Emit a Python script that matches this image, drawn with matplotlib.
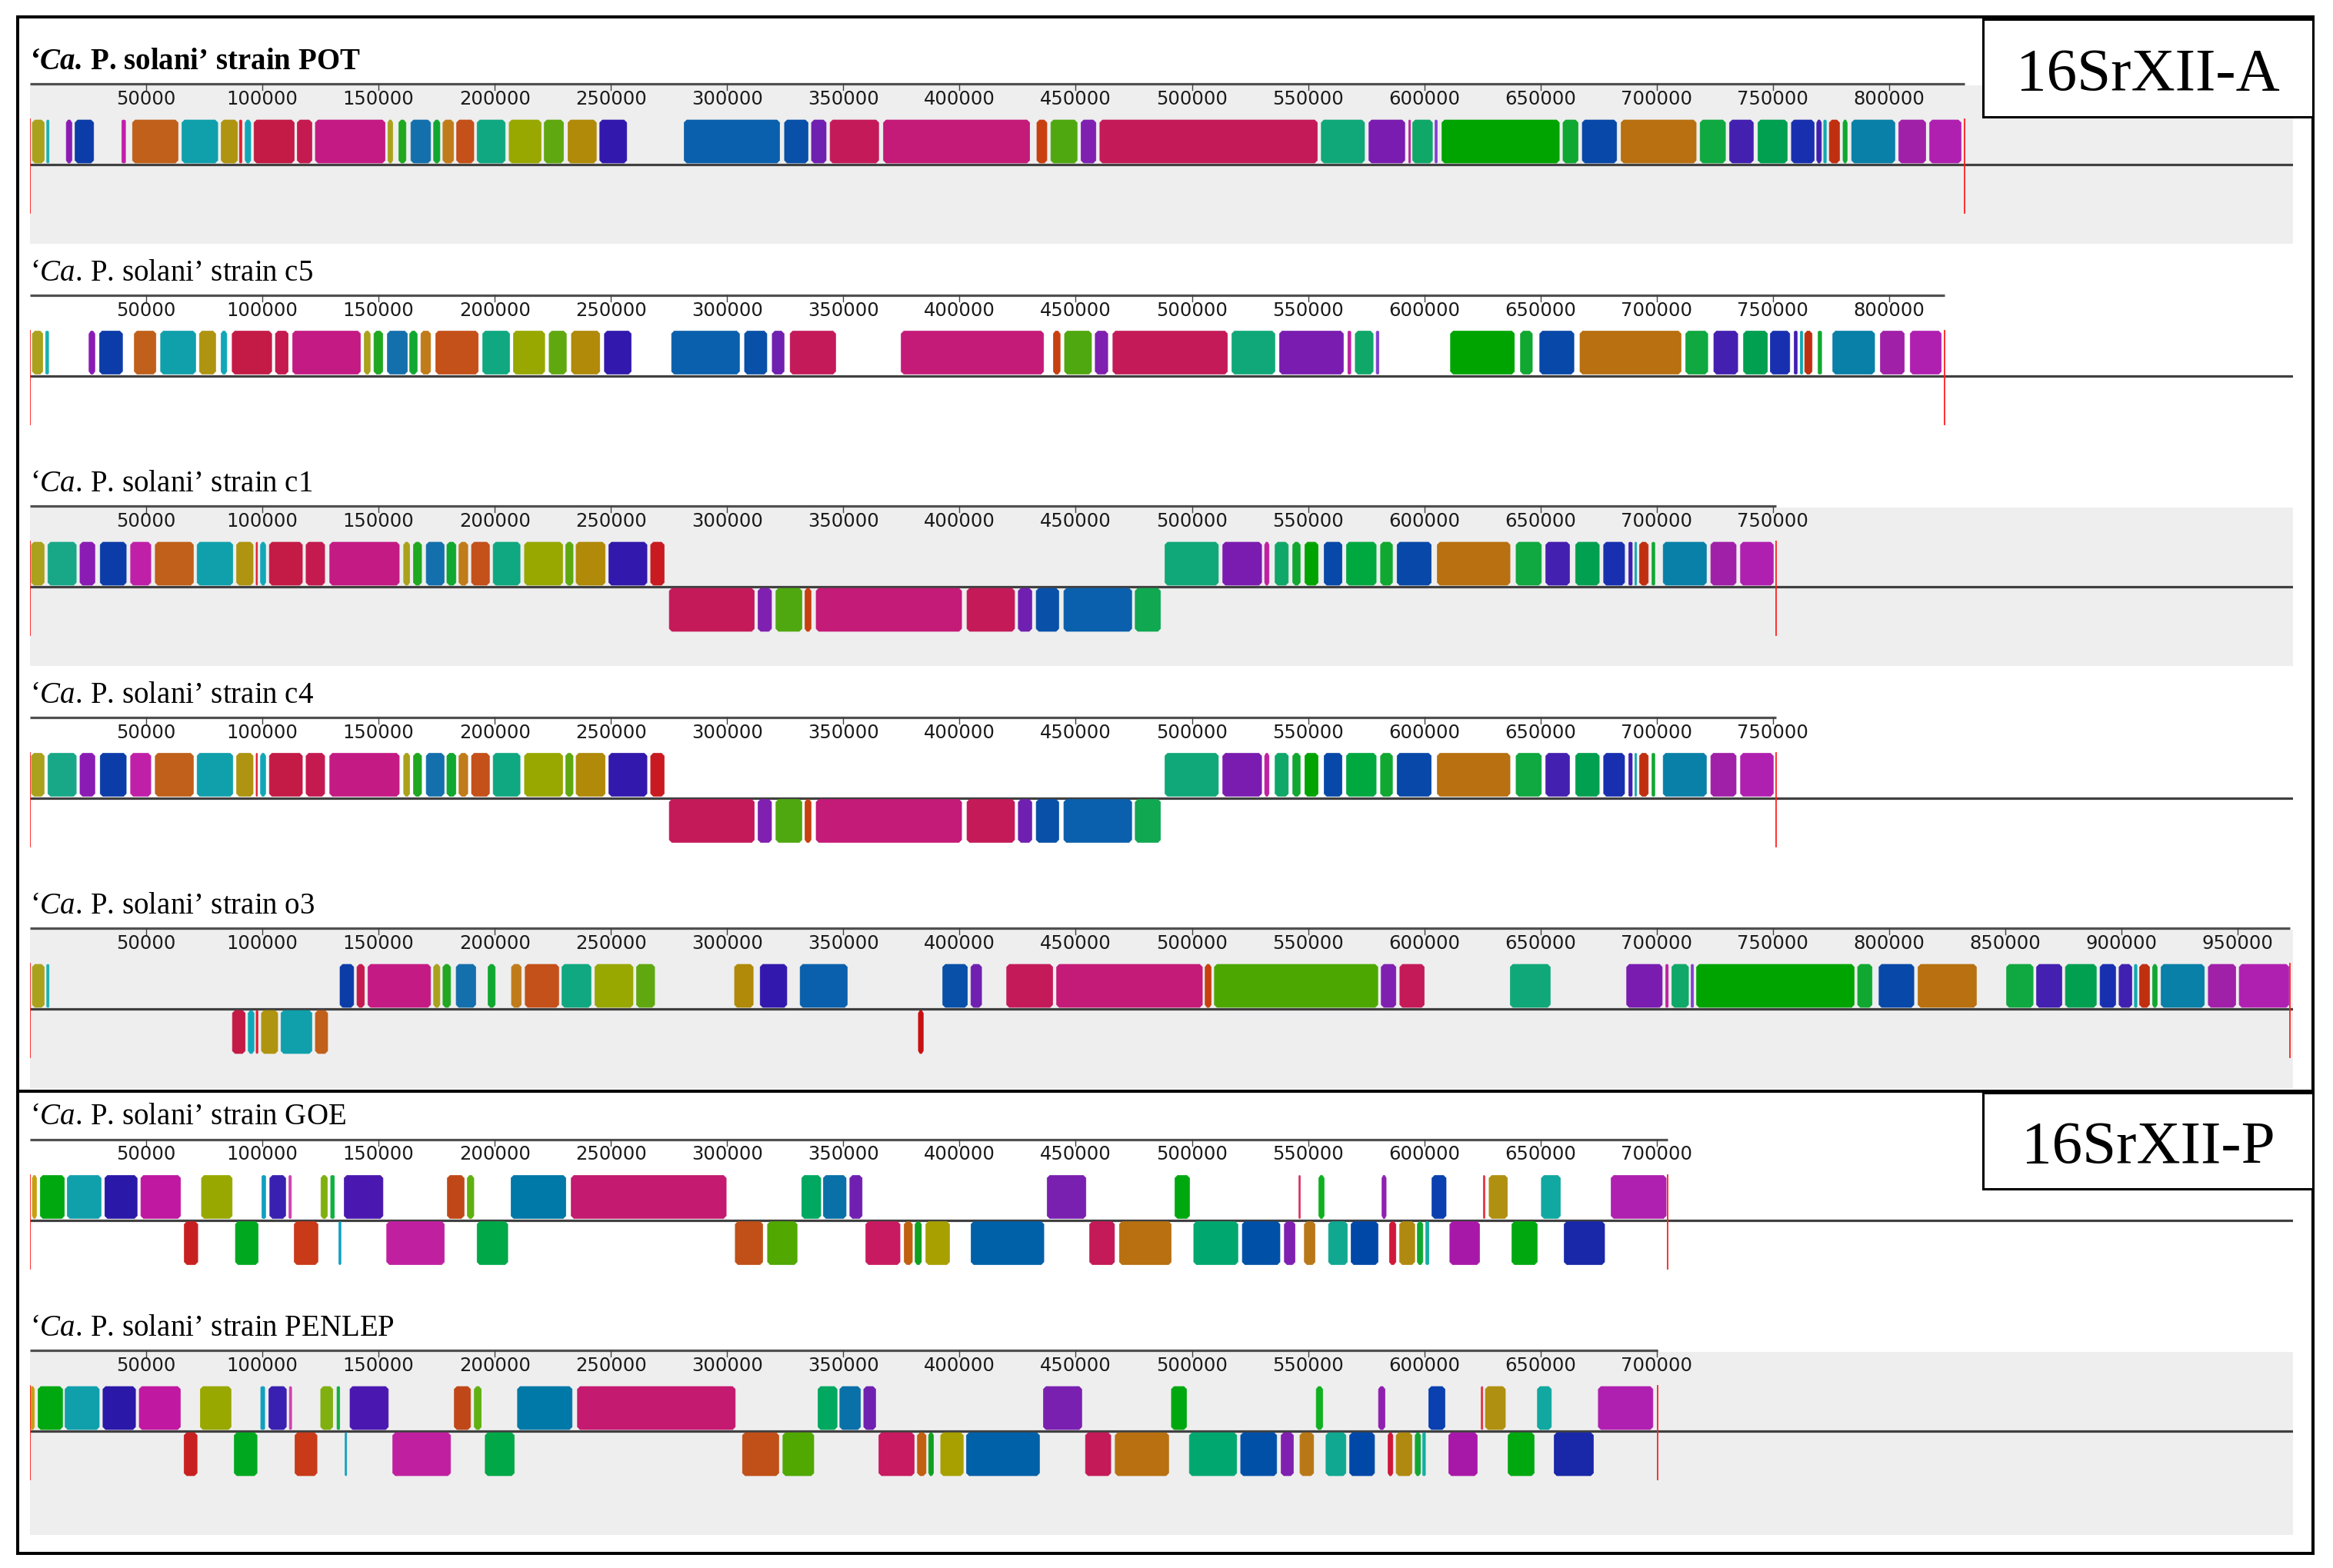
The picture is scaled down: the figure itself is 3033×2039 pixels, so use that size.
import matplotlib
matplotlib.use('Agg')
import matplotlib.pyplot as plt
from matplotlib.patches import Rectangle
from matplotlib.collections import PolyCollection

W, H, DPI = 3033, 2040, 100

plt.rcParams['mathtext.fontset'] = 'custom'
plt.rcParams['mathtext.rm'] = 'Liberation Serif'
plt.rcParams['mathtext.it'] = 'Liberation Serif:italic'
plt.rcParams['mathtext.bf'] = 'Liberation Serif:bold'
plt.rcParams['mathtext.bfit'] = 'Liberation Serif:italic:bold'

# ---------------- data ----------------
STRAINS = ['POT', 'c5', 'c1', 'c4', 'o3', 'GOE', 'PENLEP']
GENOME_LEN = [832500, 823800, 751500, 751500, 972500, 704700, 700300]
SHADED = [True, False, True, False, True, False, True]
TICK_STEP = 50000
GROUP_LABELS = ['16SrXII-A', '16SrXII-P']

POT_FWD = [
    (1000, 6100, '#aaa21c'), (7200, 8200, '#18b0b0'), (15600, 18000, '#8a1cb4'),
    (19400, 27400, '#0c3ca8'), (39500, 41100, '#c020a8'), (44100, 63700, '#c0601a'),
    (65400, 80800, '#10a0ac'), (82300, 89300, '#ae9410'), (90100, 91200, '#e02030'),
    (92600, 95000, '#10a8b8'), (96400, 113700, '#c41a46'), (115000, 121300, '#c41a50'),
    (122800, 152800, '#c41a84'), (154000, 156100, '#aaa21c'), (158700, 161800, '#20a820'),
    (163900, 172400, '#1470ac'), (173700, 176400, '#10a830'), (177700, 182300, '#c07c1a'),
    (183600, 191000, '#c4501a'), (192400, 204500, '#10a880'), (206200, 219900, '#98a800'),
    (221300, 229600, '#60a810'), (231500, 243700, '#b08a08'), (245200, 256800, '#3218ac'),
    (281500, 322600, '#0a60ac'), (324700, 334800, '#0850a8'), (336300, 342600, '#7020b0'),
    (344300, 365200, '#c41a5a'), (367300, 430200, '#c41a78'), (433300, 437600, '#c84010'),
    (439300, 450600, '#50a810'), (452300, 458700, '#8020b0'), (460400, 554000, '#c41a58'),
    (555700, 574300, '#10a878'), (576200, 591600, '#7a1cb0'), (593300, 594100, '#c020a0'),
    (595000, 603500, '#10a868'), (604600, 605600, '#8040d0'), (607600, 658100, '#00a400'),
    (659700, 666200, '#10a830'), (668000, 682800, '#0848a8'), (684700, 717000, '#b87010'),
    (718700, 729600, '#10a840'), (731400, 741600, '#4420b0'), (743600, 756200, '#00a050'),
    (758000, 767800, '#1830b0'), (768900, 770900, '#4020b0'), (771900, 773000, '#10a8b0'),
    (774300, 778700, '#c03010'), (780200, 782000, '#10a830'), (783900, 802500, '#0880a8'),
    (804200, 815800, '#a020a8'), (817500, 831000, '#b020b0'),
]
POT_REV = []

C5_FWD = [
    (1000, 5500, '#aaa21c'), (6700, 8000, '#18b0b0'), (25400, 27900, '#8a1cb4'),
    (29900, 39800, '#0c3ca8'), (44900, 54200, '#c0601a'), (56200, 71300, '#10a0ac'),
    (72900, 79900, '#ae9410'), (82200, 84700, '#10a8b8'), (87000, 104000, '#c41a46'),
    (105600, 111100, '#c41a50'), (113000, 142200, '#c41a84'), (143800, 146400, '#aaa21c'),
    (148000, 151800, '#20a820'), (153800, 162400, '#1470ac'), (163400, 166600, '#10a830'),
    (168200, 172400, '#c07c1a'), (174600, 192900, '#c4501a'), (194800, 206400, '#10a880'),
    (208000, 221500, '#98a800'), (223400, 230800, '#60a810'), (233000, 245200, '#b08a08'),
    (247200, 258700, '#3218ac'), (276100, 305300, '#0a60ac'), (307500, 317100, '#0850a8'),
    (319400, 324500, '#7020b0'), (327100, 346700, '#c41a5a'), (374900, 436200, '#c41a78'),
    (440400, 443300, '#c84010'), (445200, 456800, '#50a810'), (458400, 463800, '#8020b0'),
    (466000, 515300, '#c41a58'), (517200, 535700, '#10a878'), (537700, 565200, '#7a1cb0'),
    (567100, 568400, '#c020a0'), (570300, 578000, '#10a868'), (579300, 580500, '#8040d0'),
    (611300, 638800, '#00a400'), (641400, 646500, '#10a830'), (649700, 664400, '#0848a8'),
    (667000, 710500, '#b87010'), (712500, 722000, '#10a840'), (724600, 734900, '#4420b0'),
    (737400, 747700, '#00a050'), (748900, 757300, '#1830b0'), (759200, 760500, '#4020b0'),
    (761800, 762900, '#10a8b0'), (763700, 766900, '#c03010'), (769500, 771000, '#10a830'),
    (775800, 793800, '#0880a8'), (796300, 806600, '#a020a8'), (809100, 822500, '#b020b0'),
]
C5_REV = []

C1_FWD = [
    (600, 6100, '#aaa21c'), (7700, 19900, '#18a888'), (21500, 27900, '#8a1cb4'),
    (30200, 41400, '#0c3ca8'), (43300, 52000, '#c020a8'), (53900, 70300, '#c0601a'),
    (71900, 87300, '#10a0ac'), (88900, 96000, '#ae9410'), (97300, 97900, '#e02030'),
    (99200, 101400, '#10a8b8'), (103000, 117200, '#c41a46'), (118800, 126800, '#c41a50'),
    (129000, 158900, '#c41a84'), (160800, 163400, '#aaa21c'), (165000, 168500, '#20a820'),
    (170500, 178200, '#1470ac'), (179400, 183300, '#10a830'), (184600, 188400, '#c07c1a'),
    (190000, 197700, '#c4501a'), (199300, 210900, '#10a880'), (212800, 229200, '#98a800'),
    (230500, 233700, '#60a810'), (235000, 247500, '#b08a08'), (249100, 265500, '#3218ac'),
    (267100, 272900, '#c81a20'),
    (488400, 511400, '#10a878'), (513300, 530000, '#7a1cb0'), (531300, 533200, '#c020a0'),
    (535800, 541500, '#10a868'), (543400, 546600, '#10a830'), (548600, 554300, '#00a400'),
    (556900, 564600, '#0848a8'), (566500, 579300, '#00a840'), (581200, 586300, '#10a830'),
    (588300, 603000, '#0848a8'), (605600, 636900, '#b87010'), (639500, 650400, '#10a840'),
    (652300, 662500, '#4420b0'), (665100, 675300, '#00a050'), (677200, 686200, '#1830b0'),
    (688000, 689500, '#4020b0'), (690600, 691400, '#10a8b0'), (692600, 696400, '#c03010'),
    (698000, 699200, '#10a830'), (702800, 721400, '#0880a8'), (723300, 734200, '#a020a8'),
    (736100, 750200, '#b020b0'),
]
C1_REV = [
    (275100, 311700, '#c41a5a'), (313300, 319100, '#8020b0'), (321000, 332200, '#50a810'),
    (333500, 336100, '#c84010'), (338300, 400900, '#c41a78'), (403200, 423700, '#c41a58'),
    (425300, 431100, '#7020b0'), (433000, 442700, '#0850a8'), (444900, 474100, '#0a60ac'),
    (475600, 486500, '#10a850'),
]
C4_FWD = list(C1_FWD)
C4_REV = list(C1_REV)

O3_FWD = [
    (1000, 6100, '#aaa21c'), (7200, 8200, '#18b0b0'), (133400, 139300, '#0c3ca8'),
    (140700, 143900, '#c41a50'), (145400, 172400, '#c41a84'), (173700, 176400, '#aaa21c'),
    (177700, 181000, '#20a820'), (183400, 191800, '#1470ac'), (197100, 200200, '#10a830'),
    (207200, 211400, '#c07c1a'), (213100, 227500, '#c4501a'), (228900, 241400, '#10a880'),
    (243100, 259500, '#98a800'), (261000, 268800, '#60a810'), (303200, 311200, '#b08a08'),
    (314200, 325700, '#3218ac'), (331400, 351700, '#0a60ac'), (392800, 403400, '#0850a8'),
    (404900, 409500, '#7020b0'), (420300, 440100, '#c41a5a'), (441800, 504500, '#c41a78'),
    (505700, 508300, '#c84010'), (509700, 580000, '#4ca800'), (581500, 587800, '#8020b0'),
    (589500, 600000, '#c41a58'), (637000, 654200, '#10a878'), (687100, 702400, '#7a1cb0'),
    (703900, 705000, '#c020a0'), (706500, 713700, '#10a868'), (714800, 715900, '#8040d0'),
    (717200, 785000, '#00a400'), (786500, 792700, '#10a830'), (795700, 810700, '#0848a8'),
    (812500, 837600, '#b87010'), (850600, 862000, '#10a840'), (863500, 874400, '#4420b0'),
    (875900, 889200, '#00a050'), (890800, 897500, '#1830b0'), (899000, 904500, '#4020b0'),
    (905600, 906700, '#10a8b0'), (907800, 912100, '#c03010'), (913400, 915400, '#10a830'),
    (917100, 935700, '#0880a8'), (937400, 949200, '#a020a8'), (950700, 972100, '#b020b0'),
]
O3_REV = [
    (87100, 92600, '#c41a46'), (93900, 96400, '#10a8b8'), (97300, 98100, '#e02030'),
    (99600, 106600, '#ae9410'), (108000, 121300, '#10a0ac'), (122800, 128100, '#c0601a'),
    (382300, 384400, '#c81010'),
]

GOE_FWD = [
    (1000, 2800, '#c8a010'), (4400, 14800, '#00a810'), (16000, 30600, '#10a0ac'),
    (32200, 46100, '#2a18a8'), (47700, 64800, '#c018a0'), (73800, 87000, '#98a800'),
    (99800, 101400, '#10a0c0'), (103200, 110000, '#3a20b0'), (111400, 112500, '#d040b0'),
    (125200, 128000, '#80b010'), (129400, 131000, '#10b040'), (135200, 151900, '#4a18b0'),
    (179600, 186800, '#c04818'), (188200, 191000, '#60b010'), (207000, 230600, '#0078a8'),
    (232900, 299600, '#c41a70'), (332100, 340300, '#00a860'), (341400, 351200, '#0a70a8'),
    (352800, 358100, '#7020b0'), (437700, 454400, '#7a20b0'), (492700, 499000, '#00a810'),
    (546000, 546700, '#e03060'), (554600, 556900, '#10b020'), (581800, 583600, '#9020b0'),
    (603300, 609400, '#0a40b0'), (625400, 626100, '#e03040'), (627900, 635800, '#b09010'),
    (650400, 658600, '#10a8a0'), (680400, 704100, '#b020b0'),
]
GOE_REV = [
    (66400, 72200, '#c82020'), (88400, 98200, '#00a820'), (113700, 123900, '#c83a18'),
    (132900, 133800, '#10a0c0'), (153500, 178300, '#c020a0'), (192400, 205600, '#00a848'),
    (303500, 315300, '#c05018'), (317400, 330100, '#50a800'), (359700, 374400, '#c81a60'),
    (376200, 379700, '#c06010'), (380900, 383600, '#10a020'), (385500, 395700, '#a8a000'),
    (405000, 436300, '#0060a8'), (456000, 466700, '#c41a58'), (468800, 491100, '#b87010'),
    (500800, 519800, '#00a870'), (521700, 537900, '#0050a8'), (539800, 544400, '#8020b0'),
    (548400, 553000, '#b87818'), (558800, 566900, '#10a890'), (568500, 580100, '#0048a8'),
    (585000, 587800, '#d01838'), (589400, 595900, '#b08a10'), (597000, 599400, '#10a830'),
    (600600, 602000, '#10b0a0'), (611000, 623800, '#a818a8'), (637700, 648600, '#00a810'),
    (660200, 677600, '#1828a8'),
]

PENLEP_FWD = [
    (0, 1900, '#c8a010'), (3500, 14000, '#00a810'), (15100, 29800, '#10a0ac'),
    (31400, 45400, '#2a18a8'), (47000, 64700, '#c018a0'), (73300, 86500, '#98a800'),
    (99300, 101000, '#10a0c0'), (102800, 110300, '#3a20b0'), (111600, 112600, '#d040b0'),
    (125100, 130300, '#80b010'), (132100, 133300, '#10b040'), (137700, 154200, '#4a18b0'),
    (182600, 189600, '#c04818'), (191200, 194200, '#60b010'), (209800, 233300, '#0078a8'),
    (235600, 303500, '#c41a70'), (339100, 347300, '#00a860'), (348500, 357400, '#0a70a8'),
    (358800, 363900, '#7020b0'), (436100, 452600, '#7a20b0'), (491200, 497700, '#00a810'),
    (553500, 556300, '#10b020'), (580300, 583100, '#9020b0'), (601900, 608900, '#0a40b0'),
    (624500, 625200, '#e03040'), (626300, 634900, '#b09010'), (648700, 654700, '#10a8a0'),
    (674900, 698400, '#b020b0'),
]
PENLEP_REV = [
    (66300, 71900, '#c82020'), (87900, 97700, '#00a820'), (114000, 123500, '#c83a18'),
    (135600, 136300, '#10a0c0'), (156100, 181000, '#c020a0'), (195900, 208400, '#00a848'),
    (306600, 322200, '#c05018'), (324000, 337300, '#50a800'), (365300, 380500, '#c81a60'),
    (381900, 385600, '#c06010'), (386700, 388800, '#10a020'), (391900, 401600, '#a8a000'),
    (403000, 434400, '#0060a8'), (454200, 465100, '#c41a58'), (467000, 490000, '#b87010'),
    (498900, 519300, '#00a870'), (521000, 536500, '#0050a8'), (538400, 543700, '#8020b0'),
    (546500, 552400, '#b87818'), (557700, 566300, '#10a890'), (567900, 578600, '#0048a8'),
    (584400, 586500, '#d01838'), (587900, 594700, '#b08a10'), (596100, 598400, '#10a830'),
    (599300, 600500, '#10b0a0'), (610500, 622800, '#a818a8'), (636100, 647300, '#00a810'),
    (655900, 672800, '#1828a8'),
]

FWD = [POT_FWD, C5_FWD, C1_FWD, C4_FWD, O3_FWD, GOE_FWD, PENLEP_FWD]
REV = [POT_REV, C5_REV, C1_REV, C4_REV, O3_REV, GOE_REV, PENLEP_REV]

# ---------------- layout (pixels) ----------------
PX_PER_BP = 0.003021
X0_PX, X1_PX = 39, 2981
XMAX = (X1_PX - X0_PX) / PX_PER_BP
BASE0, PANEL_STEP = 90, 274.5
TOP_OFF = -45
BLOCK_H = 56
BEVEL_PX = 3.5


def block_polys(blocks, top):
    """Mauve-style blocks with clipped corners, from (start, end) in bp."""
    polys = []
    dx_full = BEVEL_PX / PX_PER_BP
    for s, e, c in blocks:
        dx = min(dx_full, (e - s) / 3.0)
        dy = BEVEL_PX if dx >= dx_full * 0.5 else 1.0
        bot = top + BLOCK_H
        polys.append([(s + dx, top), (e - dx, top), (e, top + dy), (e, bot - dy),
                      (e - dx, bot), (s + dx, bot), (s, bot - dy), (s, top + dy)])
    return polys


fig = plt.figure(figsize=(W / DPI, H / DPI), dpi=DPI)
fig.patch.set_facecolor('white')

for i, name in enumerate(STRAINS):
    b = BASE0 + PANEL_STEP * i
    last = (i == len(STRAINS) - 1)
    grey_bot = 260 if last else 228
    bot_off = grey_bot + 2
    ax = fig.add_axes([X0_PX / W, 1 - (b + bot_off) / H,
                       (X1_PX - X0_PX) / W, (bot_off - TOP_OFF) / H])
    ax.set_xlim(0, XMAX)
    ax.set_ylim(bot_off, TOP_OFF)
    ax.axis('off')
    L = GENOME_LEN[i]

    if SHADED[i]:
        ax.add_patch(Rectangle((0, 22), XMAX, grey_bot - 22, facecolor='#eeeeee',
                               edgecolor='none', zorder=0))
    # ruler
    ax.plot([0, L], [20, 20], color='#505050', lw=2.3, solid_capstyle='butt', zorder=2)
    for t in range(TICK_STEP, L + 1, TICK_STEP):
        ax.plot([t, t], [20, 28], color='#404040', lw=1.0, zorder=2)
        ax.text(t, 39, str(t), ha='center', va='center', fontsize=17.5,
                family='DejaVu Sans', color='#1a1a1a', zorder=3)
    # centre line
    ax.plot([0, XMAX], [125, 125], color='#404040', lw=2.3, solid_capstyle='butt', zorder=2)

    # blocks
    for blocks, top in ((FWD[i], 67), (REV[i], 127)):
        if not blocks:
            continue
        cols = [c for s, e, c in blocks]
        pc = PolyCollection(block_polys(blocks, top), facecolors=cols, edgecolors=cols,
                            linewidths=0.5, zorder=4)
        ax.add_collection(pc)

    # genome boundary markers
    for xx in (0, L):
        ax.plot([xx, xx], [66, 188], color='#ff2020', lw=1.3, zorder=5)

    # title
    if name == 'POT':
        title = "\u2018$\\mathbfit{Ca.}\\,$P. solani\u2019 strain " + name
        ax.text(0, 0, title, fontsize=28, family='Liberation Serif', fontweight='bold',
                ha='left', va='baseline', color='black', zorder=6)
    else:
        title = "\u2018$\\mathit{Ca.}\\,$P. solani\u2019 strain " + name
        ax.text(0, 0, title, fontsize=28, family='Liberation Serif',
                ha='left', va='baseline', color='black', zorder=6)


# outer group boxes and labels (figure pixel geometry)
def fig_rect(x0, y0, x1, y1, **kw):
    r = Rectangle((x0 / W, 1 - y1 / H), (x1 - x0) / W, (y1 - y0) / H,
                  transform=fig.transFigure, **kw)
    fig.add_artist(r)
    return r


fig_rect(23, 23, 3007, 1420, fill=False, edgecolor='black', lw=2.9, zorder=10)
fig_rect(23, 1420, 3007, 2021, fill=False, edgecolor='black', lw=2.9, zorder=10)

label_boxes = [(2578, 26, 3007, 153), (2578, 1422, 3007, 1547)]
for (x0, y0, x1, y1), lab in zip(label_boxes, GROUP_LABELS):
    fig_rect(x0, y0, x1, y1, facecolor='white', edgecolor='black', lw=2.2, zorder=11)
    fig.text((x0 + x1) / 2 / W, 1 - ((y0 + y1) / 2 + 27) / H, lab, ha='center',
             va='baseline', fontsize=57, family='Liberation Serif', color='black', zorder=12)

fig.savefig('out.png', dpi=DPI, facecolor='white')
